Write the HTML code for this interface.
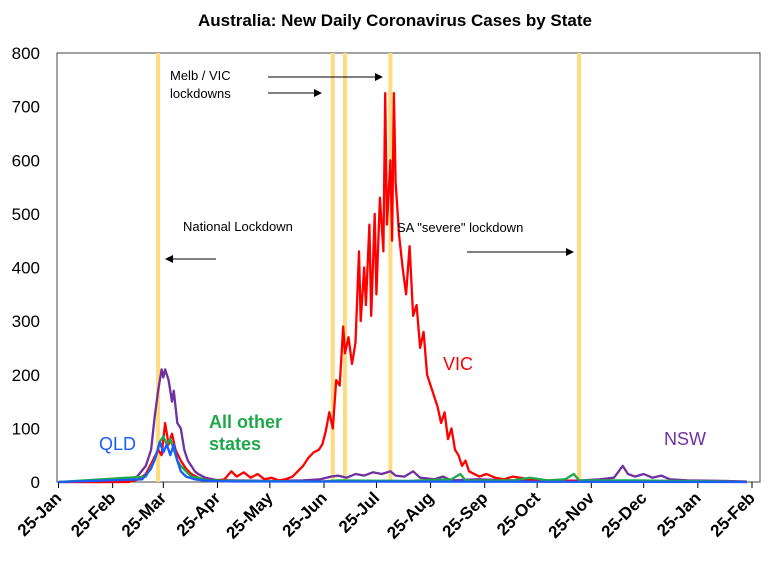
<!DOCTYPE html>
<html><head><meta charset="utf-8"><style>
html,body{margin:0;padding:0;background:#fff}
svg{display:block;font-family:"Liberation Sans",sans-serif}
</style></head><body>
<svg id="chart" width="780" height="565" viewBox="0 0 780 565">
<text x="395" y="26" text-anchor="middle" font-size="17" font-weight="bold">Australia: New Daily Coronavirus Cases by State</text>
<rect x="57" y="53" width="703" height="429" fill="none" stroke="#444" stroke-width="1"/>
<g id="lockdowns"></g>
<g id="axes"></g>
<g id="series"></g>
<g font-size="13">
<defs><marker id="ah" markerWidth="8" markerHeight="8" refX="7" refY="4" orient="auto"><path d="M0,0 L8,4 L0,8 z" fill="#000"/></marker></defs>
<text x="170" y="80">Melb / VIC</text>
<text x="170" y="98">lockdowns</text>
<line x1="268" y1="77" x2="382" y2="77" stroke="#000" marker-end="url(#ah)"/>
<line x1="268" y1="93" x2="321" y2="93" stroke="#000" marker-end="url(#ah)"/>
<text x="183" y="231">National Lockdown</text>
<line x1="216" y1="259" x2="166" y2="259" stroke="#000" marker-end="url(#ah)"/>
<text x="397" y="232">SA "severe" lockdown</text>
<line x1="467" y1="252" x2="573" y2="252" stroke="#000" marker-end="url(#ah)"/>
<text x="443" y="370" font-size="18" fill="#f00">VIC</text>
<text x="99" y="450" font-size="18" fill="#1a5cff">QLD</text>
<text x="209" y="428" font-size="18" font-weight="bold" fill="#1ea84a">All other</text>
<text x="209" y="450" font-size="18" font-weight="bold" fill="#1ea84a">states</text>
<text x="664" y="445" font-size="18" fill="#7030a0">NSW</text>
</g>
</svg>
<script>
const yTicks=[0,100,200,300,400,500,600,700,800];
const xTickLabels=["25-Jan","25-Feb","25-Mar","25-Apr","25-May","25-Jun","25-Jul","25-Aug","25-Sep","25-Oct","25-Nov","25-Dec","25-Jan","25-Feb"];
const xTickDays=[0,31,60,91,121,152,182,213,244,274,305,335,366,397];
const lockdownDays=[57,157,164,190,298];
const vicDays=[0,40,46,50,54,57,59,61,63,65,67,70,73,76,80,85,90,95,99,102,106,110,114,118,122,126,130,134,137,140,143,146,149,151,153,155,157,159,161,163,164,166,168,170,172,173,175,176,178,179,181,182,184,186,187,188,190,191,192,193,195,197,199,201,203,205,207,209,211,213,215,217,219,221,223,225,227,229,231,233,235,238,241,245,250,255,260,270,280,300,330,360,394];
const vicVals=[0,0,5,15,40,60,50,110,70,90,60,40,25,15,8,3,2,5,20,10,18,8,15,5,8,3,5,10,20,30,45,55,60,70,95,130,100,190,180,290,240,270,220,260,430,300,400,330,480,310,500,350,530,430,725,480,600,450,725,560,460,400,350,440,310,330,250,280,200,180,160,140,110,130,80,100,60,50,30,40,20,15,10,15,8,5,10,5,3,2,1,1,0];
const nswDays=[0,35,45,50,53,55,57,59,60,61,63,65,66,68,70,72,74,76,78,80,84,90,100,120,140,150,156,160,165,170,175,180,185,190,193,198,203,207,215,220,225,240,260,290,300,310,318,323,326,330,335,340,345,350,360,380,394];
const nswVals=[0,0,10,30,60,120,170,210,195,210,190,150,170,110,100,60,40,30,20,15,8,4,3,2,3,5,10,12,8,15,12,18,15,20,12,10,20,8,5,10,3,5,3,2,3,5,8,30,15,10,15,8,12,5,3,2,1];
const otherDays=[0,50,55,58,60,62,64,66,68,70,73,76,80,85,100,150,160,200,225,230,233,260,270,280,290,295,298,330,380,394];
const otherVals=[0,10,40,75,85,70,80,60,40,30,20,10,8,3,2,1,3,2,5,15,3,3,8,3,5,15,3,3,1,0];
const qldDays=[0,48,53,56,58,60,62,64,66,68,70,73,78,85,100,394];
const qldVals=[0,5,25,50,75,55,70,50,70,40,20,10,5,2,1,0];

const X0=58.5,PXD=693.5/397,Y0=482,PXV=429/800;
const xs=d=>X0+d*PXD, ys=v=>Y0-v*PXV;
const NS="http://www.w3.org/2000/svg";
function mk(t,a,p){const e=document.createElementNS(NS,t);for(const k in a)e.setAttribute(k,a[k]);p.appendChild(e);return e;}
const ax=document.getElementById('axes'),ld=document.getElementById('lockdowns'),sr=document.getElementById('series');
lockdownDays.forEach(d=>{
 const l=mk('line',{x1:xs(d),x2:xs(d),y1:53,y2:482,stroke:'#ffdb80','stroke-width':4},ld);
 
 
});
yTicks.forEach(v=>{
 const t=mk('text',{x:40,y:ys(v)+6,'text-anchor':'end','font-size':17},ax);
 t.textContent=v;
 
 
});
xTickDays.forEach((d,i)=>{
 const x=xs(d);
 const tk=mk('line',{x1:x,x2:x,y1:482,y2:488,stroke:'#000'},ax);
 
 
 const t=mk('text',{x:x+4,y:499,'text-anchor':'end','font-size':17,'font-weight':'bold',transform:`rotate(-45 ${x+4} 499)`},ax);
 t.textContent=xTickLabels[i];
 
 
});
function line(days,vals,col,name){
 const p=mk('polyline',{points:days.map((d,i)=>xs(d).toFixed(1)+','+ys(vals[i]).toFixed(1)).join(' '),fill:'none',stroke:col,'stroke-width':2.3,'stroke-linejoin':'round'},sr);
 
 
}
line(nswDays,nswVals,'#7030a0','nsw-series');
line(vicDays,vicVals,'#ff0000','vic-series');
line(otherDays,otherVals,'#1ea84a','other-states-series');
line(qldDays,qldVals,'#1a5cff','qld-series');
</script>
</body></html>
